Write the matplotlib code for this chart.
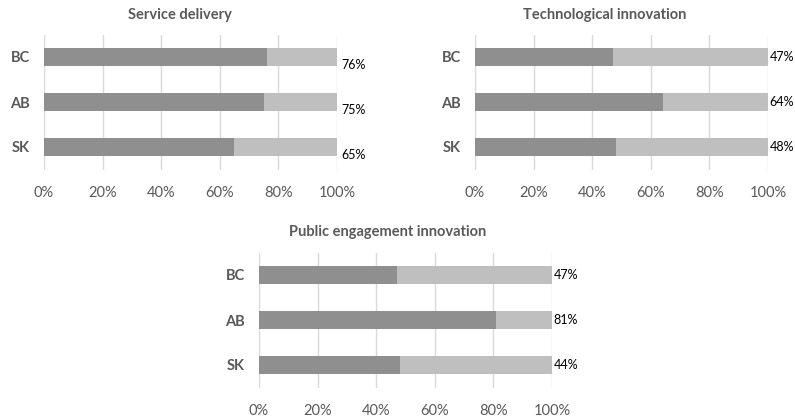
import matplotlib.pyplot as plt

plt.rcParams['font.family'] = ['Lato', 'DejaVu Sans']

provinces = ['BC', 'AB', 'SK']

service = [76, 75, 65]
service_labels = ['76%', '75%', '65%']

tech = [47, 64, 48]
tech_labels = ['47%', '64%', '48%']

public = [47, 81, 48]
public_labels = ['47%', '81%', '44%']

xticks = [0, 20, 40, 60, 80, 100]

dark = '#8f8f8f'
light = '#bfbfbf'
text_grey = '#595959'

W, H = 795, 417
fig = plt.figure(figsize=(W / 100, H / 100), dpi=100)


def panel(left_px, top_px, vals, labels, title, title_x, title_y, lab_dx, lab_dy):
    # axes box in pixel coords -> figure fraction
    ax = fig.add_axes([left_px / W, 1 - (top_px + 135) / H, 293 / W, 135 / H])
    y = range(len(provinces))
    rest = [100 - v for v in vals]
    ax.barh(y, vals, height=0.4, color=dark, zorder=3)
    ax.barh(y, rest, left=vals, height=0.4, color=light, zorder=3)
    ax.set_xlim(0, 100)
    ax.set_ylim(-0.5, 2.5)
    ax.invert_yaxis()
    ax.set_yticks(list(y))
    ax.set_yticklabels(provinces, fontsize=10.5, fontweight='bold', color=text_grey)
    ax.set_xticks(xticks)
    ax.set_xticklabels([f'{t}%' for t in xticks], fontsize=10.5, color=text_grey)
    ax.tick_params(length=0, axis='x', pad=12)
    ax.tick_params(length=0, axis='y', pad=10)
    ax.grid(axis='x', color='#d9d9d9', linewidth=1, zorder=0)
    for s in ax.spines.values():
        s.set_visible(False)
    for i, lbl in enumerate(labels):
        ax.annotate(lbl, (100, i), xytext=(lab_dx, lab_dy), textcoords='offset points',
                    ha='left', va='center', fontsize=9, color='black')
    fig.text(title_x / W, 1 - title_y / H, title, ha='center', va='center',
             fontsize=10.5, fontweight='bold', color=text_grey)
    return ax


panel(44, 34.5, service, service_labels, 'Service delivery', 180, 15, 3, -5.5)
panel(475, 34.5, tech, tech_labels, 'Technological innovation', 605, 15, 1, 0)
panel(259, 252.5, public, public_labels, 'Public engagement innovation', 388, 232, 1, 0)

fig.savefig('out.png', dpi=100)
